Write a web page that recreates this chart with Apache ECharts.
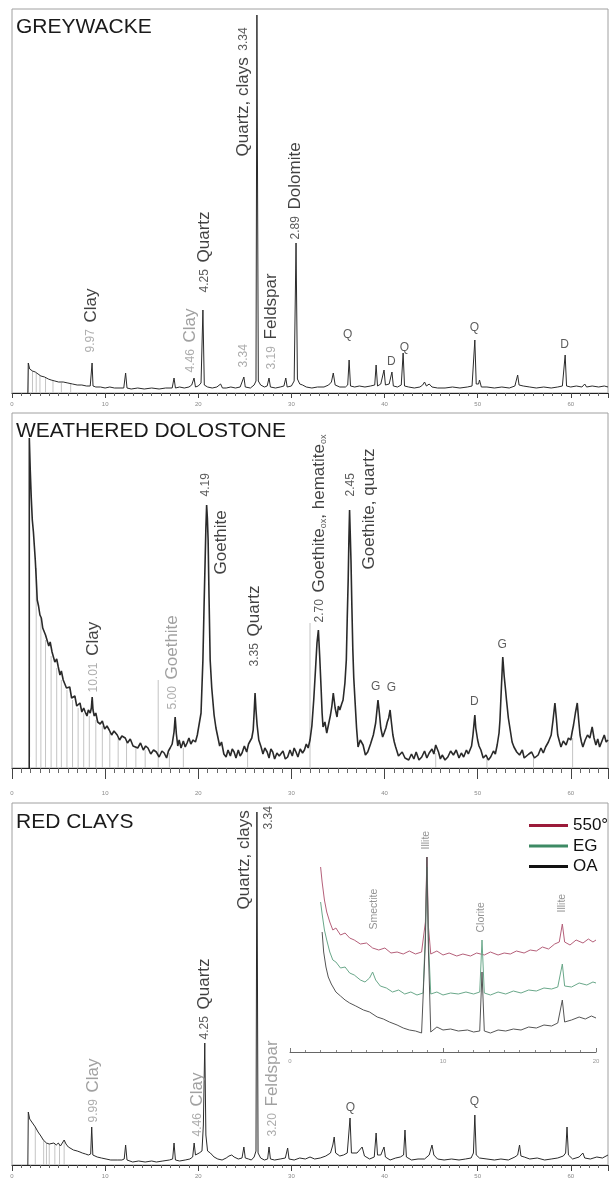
<!DOCTYPE html>
<html>
<head>
<meta charset="utf-8">
<title>XRD patterns</title>
<script src="https://cdn.jsdelivr.net/npm/echarts@6/dist/echarts.min.js"></script>
<style>
  html, body { margin: 0; padding: 0; background: #fff; }
  #main { width: 611px; height: 1179px; }
</style>
</head>
<body>
<div id="main"></div>
<script>
const FONT = '"Liberation Sans", Arial, sans-serif'

// x = 2theta (deg), y = counts (arbitrary)
const scanTicks = [0, 10, 20, 30, 40, 50, 60]
const insetTicks = [0, 10, 20]
const panelTitles = ['GREYWACKE', 'WEATHERED DOLOSTONE', 'RED CLAYS']
const insetNames = ['550°', 'EG', 'OA']

const greywacke = [[1.7,0],[1.75,30],[1.9,24],[2.2,22],[2.5,21],[2.8,19],[3.1,17],[3.5,16],[3.9,14],[4.2,13],[4.6,12],[5.0,11],[5.5,11],[6.0,10],[6.5,9],[7.0,8],[7.5,8],[8.0,7],[8.4,7],[8.5,8],[8.6,30],[8.7,7],[9.0,6],[9.5,6],[10,5],[10.5,6],[11,5],[11.6,5],[12.0,5],[12.2,20],[12.35,5],[12.8,4],[13.5,5],[14.2,4],[15,5],[15.8,4],[16.5,5],[17.2,5],[17.4,15],[17.55,5],[18.0,6],[18.5,5],[19.0,6],[19.3,8],[19.55,15],[19.7,6],[20.0,7],[20.3,10],[20.5,83],[20.65,8],[21.0,6],[21.5,5],[22.0,6],[22.4,9],[22.6,5],[23.0,5],[23.5,6],[24.0,5],[24.5,6],[24.9,16],[25.05,6],[25.6,5],[26.0,8],[26.2,12],[26.3,378],[26.45,12],[26.7,8],[27.1,6],[27.4,7],[27.6,15],[27.75,6],[28.3,5],[28.8,6],[29.2,7],[29.4,15],[29.55,6],[30.0,7],[30.3,12],[30.5,150],[30.65,14],[30.9,9],[31.2,8],[31.6,6],[32.2,5],[32.8,6],[33.5,6],[34.0,8],[34.3,11],[34.5,20],[34.7,8],[35.2,6],[35.8,6],[36.05,8],[36.2,33],[36.35,7],[36.8,6],[37.3,7],[37.9,6],[38.5,7],[38.95,8],[39.1,28],[39.25,7],[39.6,9],[39.95,23],[40.1,8],[40.5,9],[40.8,21],[40.95,7],[41.4,6],[41.8,8],[42.0,40],[42.15,7],[42.6,6],[43.2,5],[43.8,6],[44.1,8],[44.3,11],[44.5,7],[44.8,9],[45.1,6],[45.7,5],[46.5,5],[47.3,6],[48.1,5],[48.9,6],[49.4,7],[49.7,53],[49.85,9],[50.1,9],[50.2,13],[50.4,6],[51.0,6],[51.8,5],[52.6,6],[53.4,5],[54.0,7],[54.3,18],[54.45,8],[54.9,7],[55.6,6],[56.3,5],[57.1,6],[57.9,5],[58.6,6],[59.1,7],[59.4,38],[59.55,7],[60.0,6],[60.6,7],[61.2,6],[61.5,9],[61.7,6],[62.3,7],[63.0,6],[63.6,7],[64,6]]
const greywackeRef = [[1.75,30],[2.2,22],[2.6,20],[3.0,18],[3.6,15],[4.4,12],[5.3,10],[6.3,9]]
const greywackePeaks = [
  [8.55, 40, '{g|9.97}  {t|Clay}'],
  [19.24, 20, '{g|4.46}  {u|Clay}'],
  [20.7, 100, '{n|4.25}  {t|Quartz}'],
  [24.9, 25, '{g|3.34}'],
  [24.9, 236, '{t|Quartz, clays}  {n|3.34}'],
  [27.9, 23, '{g|3.19}  {t|Feldspar}'],
  [30.5, 153, '{n|2.89}  {t|Dolomite}']
]
const greywackeMarks = [[36.1,58,'Q'],[40.8,31,'D'],[42.2,45,'Q'],[49.7,65,'Q'],[59.4,48,'D']]

const dolostone = [[1.85,0],[1.86,330],[1.96,298],[2.07,270],[2.18,248],[2.3,236],[2.4,222],[2.5,208],[2.6,190],[2.71,168],[2.85,162],[3.0,153],[3.15,150],[3.3,140],[3.45,142],[3.6,133],[3.79,131],[3.95,122],[4.1,126],[4.3,116],[4.45,118],[4.6,106],[4.8,109],[4.97,101],[5.15,93],[5.3,97],[5.5,88],[5.65,90],[5.85,80],[6.04,78],[6.2,81],[6.4,70],[6.58,68],[6.75,72],[6.95,62],[7.11,61],[7.3,65],[7.5,56],[7.7,60],[7.86,56],[8.05,52],[8.2,58],[8.4,55],[8.52,60],[8.61,71],[8.7,58],[8.83,52],[9.0,55],[9.2,46],[9.47,44],[9.7,47],[9.95,39],[10.2,42],[10.44,38],[10.7,33],[10.95,37],[11.3,33],[11.55,28],[11.8,32],[12.16,30],[12.4,25],[12.7,29],[13.0,22],[13.2,24],[13.5,20],[13.8,25],[14.1,18],[14.35,22],[14.6,20],[14.9,14],[15.2,18],[15.5,16],[15.8,11],[16.1,17],[16.34,15],[16.6,10],[16.8,17],[16.98,20],[17.2,24],[17.4,36],[17.52,51],[17.65,34],[17.8,22],[17.95,28],[18.15,20],[18.4,27],[18.6,21],[18.8,25],[19.0,30],[19.2,24],[19.45,28],[19.7,26],[19.9,33],[20.1,35],[20.3,55],[20.5,108],[20.62,160],[20.74,208],[20.82,240],[20.9,263],[20.98,250],[21.06,228],[21.16,170],[21.28,108],[21.45,80],[21.7,53],[21.9,40],[22.1,31],[22.3,22],[22.5,26],[22.75,14],[22.99,11],[23.2,18],[23.45,12],[23.65,19],[23.85,16],[24.05,10],[24.3,18],[24.5,12],[24.7,15],[24.95,22],[25.2,16],[25.4,24],[25.57,23],[25.75,30],[25.9,38],[26.0,55],[26.1,75],[26.2,58],[26.32,43],[26.5,28],[26.75,21],[26.95,14],[27.15,20],[27.4,16],[27.6,10],[27.8,19],[28.0,16],[28.2,9],[28.45,15],[28.7,12],[28.9,11],[29.1,17],[29.35,9],[29.6,11],[29.85,18],[30.1,12],[30.3,20],[30.5,16],[30.7,11],[30.95,19],[31.2,15],[31.4,18],[31.6,24],[31.8,20],[32.0,28],[32.2,42],[32.4,68],[32.6,100],[32.75,125],[32.9,138],[33.05,110],[33.2,78],[33.3,55],[33.4,41],[33.6,46],[33.8,35],[34.0,44],[34.2,53],[34.35,62],[34.5,75],[34.7,60],[34.9,51],[35.05,62],[35.2,58],[35.4,64],[35.55,68],[35.75,85],[35.9,108],[36.0,150],[36.1,188],[36.18,230],[36.25,258],[36.32,235],[36.4,208],[36.5,160],[36.6,118],[36.7,90],[36.83,68],[37.0,40],[37.16,21],[37.4,28],[37.7,23],[37.95,13],[38.2,16],[38.5,24],[38.8,33],[39.05,45],[39.3,68],[39.45,55],[39.6,40],[39.8,31],[39.96,35],[40.15,40],[40.3,46],[40.45,50],[40.6,58],[40.75,45],[40.9,33],[41.05,26],[41.2,21],[41.5,12],[41.9,16],[42.2,10],[42.6,8],[42.9,14],[43.15,9],[43.4,16],[43.7,8],[44.0,11],[44.3,17],[44.55,10],[44.8,15],[45.1,19],[45.3,14],[45.5,23],[45.8,16],[46.0,9],[46.2,13],[46.5,8],[46.8,11],[47.1,17],[47.4,13],[47.7,18],[48.0,10],[48.25,15],[48.5,11],[48.8,18],[49.0,14],[49.2,16],[49.35,22],[49.5,33],[49.62,45],[49.7,53],[49.8,40],[50.0,28],[50.15,22],[50.35,18],[50.6,10],[50.9,13],[51.15,8],[51.4,11],[51.7,17],[51.9,14],[52.1,23],[52.3,35],[52.4,48],[52.55,80],[52.7,111],[52.85,92],[53.0,78],[53.1,68],[53.3,50],[53.5,38],[53.7,26],[53.9,21],[54.2,16],[54.5,13],[54.8,18],[55.0,10],[55.2,8],[55.5,14],[55.8,16],[56.1,10],[56.5,13],[56.8,20],[57.05,15],[57.3,21],[57.6,26],[57.9,33],[58.1,48],[58.3,65],[58.45,50],[58.6,33],[58.8,26],[58.95,21],[59.2,27],[59.5,23],[59.75,30],[60.0,28],[60.15,36],[60.3,43],[60.5,55],[60.7,65],[60.85,48],[61.0,33],[61.15,26],[61.3,21],[61.55,28],[61.8,33],[62.05,30],[62.3,41],[62.5,30],[62.7,23],[62.9,29],[63.1,21],[63.35,27],[63.6,33],[63.8,26],[64.0,28]]
const dolostoneRef = [[2.6,200],[3.1,150],[3.6,128],[4.2,112],[4.8,100],[5.3,88],[5.9,78],[6.5,68],[7.1,60],[7.7,55],[8.3,52],[9.0,48],[9.7,42],[10.5,36],[11.4,30],[12.3,26],[13.3,22],[14.3,18],[15.7,88],[16.9,15],[18.4,20],[25.3,18],[32.0,145],[45.5,15],[51.0,10],[56.0,10],[60.2,30]]
const dolostonePeaks = [
  [8.78, 75, '{g|10.01}  {t|Clay}'],
  [17.3, 58, '{g|5.00}  {u|Goethite}'],
  [20.9, 271, '{n|4.19}'],
  [22.57, 193, '{t|Goethite}'],
  [26.1, 101, '{n|3.35}  {t|Quartz}'],
  [33.1, 145, '{n|2.70}  {t|Goethite}{s|ox}{t|, hematite}{s|ox}'],
  [36.4, 271, '{n|2.45}'],
  [38.45, 198, '{t|Goethite, quartz}']
]
const dolostoneMarks = [[39.1,81,'G'],[40.8,80,'G'],[49.7,66,'D'],[52.7,123,'G']]

const redClays = [[1.7,0],[1.75,53],[1.9,46],[2.2,42],[2.5,38],[2.8,33],[3.1,29],[3.36,25],[3.7,22],[4.0,21],[4.2,20],[4.5,22],[4.75,20],[4.97,22],[5.2,19],[5.4,22],[5.6,25],[5.8,21],[6.05,18],[6.25,18],[6.6,15],[7.0,14],[7.3,13],[7.55,12],[7.9,11],[8.2,10],[8.45,11],[8.56,38],[8.68,10],[9.15,8],[9.6,7],[10.1,6],[10.6,5],[11.3,5],[11.8,5],[12.05,6],[12.2,20],[12.35,5],[12.96,3],[13.6,4],[14.3,3],[15.0,4],[15.5,3],[16.2,4],[16.9,5],[17.25,6],[17.4,22],[17.55,5],[18.0,4],[18.6,5],[19.1,6],[19.4,8],[19.56,22],[19.7,10],[20.1,12],[20.4,14],[20.55,40],[20.7,122],[20.82,30],[21.0,14],[21.3,12],[21.7,8],[22.1,6],[22.56,5],[23.0,7],[23.3,9],[23.6,10],[23.85,8],[24.3,6],[24.7,7],[24.9,18],[25.05,7],[25.4,6],[25.7,5],[26.0,8],[26.2,14],[26.3,353],[26.42,12],[26.7,7],[27.1,5],[27.45,6],[27.6,18],[27.75,6],[28.2,5],[28.8,6],[29.35,7],[29.6,17],[29.75,6],[30.3,5],[30.9,7],[31.5,6],[32.0,8],[32.2,10],[32.5,6],[33.1,7],[33.7,9],[34.2,12],[34.45,20],[34.6,28],[34.75,12],[35.2,9],[35.6,10],[36.0,12],[36.3,47],[36.45,12],[37.05,12],[37.6,18],[37.85,9],[38.4,6],[38.9,8],[39.1,32],[39.25,10],[39.6,10],[39.95,18],[40.1,8],[40.6,5],[41.2,7],[41.7,8],[42.05,10],[42.2,35],[42.35,8],[42.9,5],[43.6,6],[44.3,6],[44.8,10],[45.1,20],[45.3,10],[45.7,6],[46.4,5],[47.2,6],[48.0,5],[48.7,6],[49.3,7],[49.55,12],[49.7,50],[49.85,10],[50.2,7],[51.0,6],[51.8,5],[52.5,6],[53.3,5],[54.0,8],[54.3,10],[54.5,20],[54.65,9],[55.0,8],[55.6,6],[56.4,7],[57.2,5],[57.9,6],[58.6,7],[59.2,9],[59.45,12],[59.6,38],[59.75,10],[60.2,6],[60.9,8],[61.3,12],[61.5,7],[62.1,6],[62.8,8],[63.4,7],[64,10]]
const redClaysRef = [[2.5,38],[3.4,25],[3.7,22],[4.0,21],[4.6,21],[5.1,20],[5.6,24]]
const redClaysPeaks = [
  [8.78, 42, '{g|9.99}  {u|Clay}'],
  [20.0, 28, '{g|4.46}  {u|Clay}'],
  [20.7, 125, '{n|4.25}  {t|Quartz}'],
  [25.0, 255, '{t|Quartz, clays}'],
  [27.6, 335, '{n|3.34}'],
  [28.0, 28, '{g|3.20}  {u|Feldspar}']
]
const redClaysMarks = [[36.4,57,'Q'],[49.7,63,'Q']]

// inset: oriented aggregates, 550 °C / ethylene glycol / air dried
const inset550 = [[2.0,185],[2.1,170],[2.25,152],[2.4,140],[2.6,130],[2.8,122],[3.0,124],[3.3,117],[3.6,119],[3.9,114],[4.2,112],[4.6,108],[5.0,109],[5.4,104],[5.8,102],[6.2,104],[6.6,99],[7.0,100],[7.4,98],[7.8,101],[8.2,98],[8.6,100],[8.85,130],[8.95,195],[9.05,125],[9.2,98],[9.6,101],[10.0,97],[10.4,99],[10.9,96],[11.3,98],[11.8,96],[12.2,99],[12.7,97],[13.1,100],[13.6,97],[14.0,99],[14.4,98],[14.8,101],[15.3,99],[15.7,102],[16.1,101],[16.5,105],[16.9,103],[17.3,108],[17.6,110],[17.8,128],[17.95,110],[18.3,107],[18.7,112],[19.15,109],[19.5,113],[19.8,110],[20,112]]
const insetEG = [[2.0,150],[2.1,138],[2.25,122],[2.4,112],[2.6,100],[2.8,92],[3.0,90],[3.3,84],[3.6,85],[3.9,79],[4.2,77],[4.6,72],[4.9,70],[5.2,74],[5.4,80],[5.6,72],[5.9,66],[6.3,64],[6.7,60],[7.1,62],[7.5,58],[7.9,60],[8.3,57],[8.7,59],[8.85,120],[8.95,185],[9.05,110],[9.2,58],[9.6,60],[10.0,57],[10.5,59],[11.0,58],[11.5,60],[12.0,58],[12.4,60],[12.55,112],[12.7,59],[13.1,57],[13.6,60],[14.1,58],[14.6,61],[15.1,59],[15.6,62],[16.1,61],[16.6,64],[17.1,63],[17.5,65],[17.8,88],[17.95,66],[18.4,65],[18.9,69],[19.4,67],[19.8,70],[20,69]]
const insetOA = [[2.1,120],[2.2,100],[2.35,85],[2.5,75],[2.7,68],[3.0,60],[3.3,56],[3.6,52],[3.9,49],[4.3,46],[4.8,42],[5.2,40],[5.7,35],[6.1,33],[6.5,30],[7.0,27],[7.4,24],[7.8,22],[8.2,21],[8.6,19],[8.85,110],[8.95,195],[9.05,100],[9.2,20],[9.6,25],[10.0,22],[10.5,23],[11.0,21],[11.6,22],[12.0,20],[12.4,21],[12.55,80],[12.7,21],[13.1,19],[13.6,22],[14.1,21],[14.6,23],[15.1,22],[15.6,25],[16.1,24],[16.6,27],[17.1,26],[17.5,29],[17.8,52],[17.95,30],[18.4,32],[18.9,35],[19.3,33],[19.7,36],[20,34]]
const insetPeaks = [[5.55,122,'Smectite'],[8.95,202,'Illite'],[12.55,119,'Clorite'],[17.85,139,'Illite']]

// layout of the three stacked panels
const panels = [
  { top: 9, height: 384, tickLen: 5, minorLen: 3, labelGap: 8 },
  { top: 413, height: 355, tickLen: 11, minorLen: 5, labelGap: 22 },
  { top: 803, height: 362, tickLen: 6, minorLen: 3, labelGap: 8 }
]
const titleY = [27.5, 431.5, 822.5]

const rich = {
  n: { fontSize: 12, color: '#333', fontFamily: FONT },
  g: { fontSize: 12, color: '#999', fontFamily: FONT },
  t: { fontSize: 17, color: '#111', fontFamily: FONT },
  u: { fontSize: 17, color: '#8a8a8a', fontFamily: FONT },
  s: { fontSize: 9, color: '#333', fontFamily: FONT, verticalAlign: 'bottom' },
  i: { fontSize: 10.5, color: '#777', fontFamily: FONT }
}

function scanAxis(i, p) {
  return {
    type: 'value', gridIndex: i, min: 0, max: 64, interval: 10,
    axisLine: { show: true, onZero: false, lineStyle: { color: '#222', width: 1 } },
    axisTick: { show: true, length: p.tickLen, lineStyle: { color: '#444' } },
    minorTick: { show: true, splitNumber: 10, length: p.minorLen, lineStyle: { color: '#666' } },
    axisLabel: {
      margin: p.labelGap, fontSize: 6, color: '#8a8a8a', fontFamily: FONT, showMaxLabel: false,
      formatter: v => scanTicks.indexOf(v) >= 0 ? String(v) : ''
    },
    splitLine: { show: false }
  }
}

function lineSeries(data, idx, color, width, name) {
  return {
    type: 'line', name: name, xAxisIndex: idx, yAxisIndex: idx, data: data,
    symbol: 'none', silent: true, z: 3,
    lineStyle: { color: color, width: width }, itemStyle: { color: color }
  }
}

function stickSeries(data, idx) {
  return {
    type: 'bar', xAxisIndex: idx, yAxisIndex: idx, data: data, barWidth: 1,
    silent: true, z: 1, itemStyle: { color: '#c4c4c4' }
  }
}

function peakSeries(data, idx) {
  return {
    type: 'scatter', xAxisIndex: idx, yAxisIndex: idx, data: data, symbolSize: 1,
    silent: true, z: 5, itemStyle: { color: 'rgba(0,0,0,0)' },
    label: {
      show: true, position: [0, 0], rotate: 90, align: 'left', verticalAlign: 'middle',
      formatter: p => p.data[2], rich: rich
    }
  }
}

function markSeries(data, idx) {
  return {
    type: 'scatter', xAxisIndex: idx, yAxisIndex: idx, data: data, symbolSize: 1,
    silent: true, z: 5, itemStyle: { color: 'rgba(0,0,0,0)' },
    label: {
      show: true, position: [0, 0], align: 'center', verticalAlign: 'middle',
      fontSize: 12, color: '#333', fontFamily: FONT, formatter: p => p.data[2]
    }
  }
}

const grids = panels.map(p => ({
  left: 12, width: 596, top: p.top, height: p.height,
  show: true, borderColor: '#a0a0a0', borderWidth: 1
}))
grids.push({ left: 290, width: 306, top: 845, height: 207 })

const xAxes = panels.map((p, i) => scanAxis(i, p))
xAxes.push({
  type: 'value', gridIndex: 3, min: 0, max: 20, interval: 10,
  axisLine: { show: true, onZero: false, lineStyle: { color: '#666', width: 1 } },
  axisTick: { show: true, inside: true, length: 4, lineStyle: { color: '#777' } },
  minorTick: { show: true, splitNumber: 10, length: 2, lineStyle: { color: '#888' } },
  axisLabel: {
    margin: 6, fontSize: 6, color: '#999', fontFamily: FONT,
    formatter: v => insetTicks.indexOf(v) >= 0 ? String(v) : ''
  },
  splitLine: { show: false }
})

const yAxes = panels.map((p, i) => ({ type: 'value', gridIndex: i, min: 0, max: p.height, show: false }))
yAxes.push({ type: 'value', gridIndex: 3, min: 0, max: 207, show: false })

const chart = echarts.init(document.getElementById('main'))
chart.setOption({
  animation: false,
  backgroundColor: '#fff',
  grid: grids,
  xAxis: xAxes,
  yAxis: yAxes,
  legend: {
    orient: 'vertical', left: 524, top: 812, itemWidth: 39, itemHeight: 3, itemGap: 3.5,
    selectedMode: false, icon: 'rect',
    textStyle: { fontSize: 17, lineHeight: 17, color: '#111', fontFamily: FONT },
    data: [
      { name: insetNames[0], icon: 'rect', itemStyle: { color: '#9b1b3a' } },
      { name: insetNames[1], icon: 'rect', itemStyle: { color: '#3d8a64' } },
      { name: insetNames[2], icon: 'rect', itemStyle: { color: '#111' } }
    ]
  },
  graphic: panelTitles.map((t, i) => ({
    type: 'text', x: 16, y: titleY[i], z: 10,
    style: { text: t, fontSize: 21, fontFamily: FONT, fill: '#1a1a1a', verticalAlign: 'middle', align: 'left' }
  })),
  series: [
    stickSeries(greywackeRef, 0),
    lineSeries(greywacke, 0, '#2b2b2b', 1),
    peakSeries(greywackePeaks, 0),
    markSeries(greywackeMarks, 0),

    stickSeries(dolostoneRef, 1),
    lineSeries(dolostone, 1, '#2a2a2a', 1.6),
    peakSeries(dolostonePeaks, 1),
    markSeries(dolostoneMarks, 1),

    stickSeries(redClaysRef, 2),
    lineSeries(redClays, 2, '#2b2b2b', 1),
    peakSeries(redClaysPeaks, 2),
    markSeries(redClaysMarks, 2),

    lineSeries(inset550, 3, '#b5607a', 1, insetNames[0]),
    lineSeries(insetEG, 3, '#6aa88a', 1, insetNames[1]),
    lineSeries(insetOA, 3, '#555', 1, insetNames[2]),
    {
      type: 'scatter', xAxisIndex: 3, yAxisIndex: 3, data: insetPeaks, symbolSize: 1,
      silent: true, z: 5, itemStyle: { color: 'rgba(0,0,0,0)' },
      label: {
        show: true, position: [0, 0], rotate: 90, align: 'left', verticalAlign: 'middle',
        formatter: p => '{i|' + p.data[2] + '}', rich: rich
      }
    }
  ]
})
</script>
</body>
</html>
